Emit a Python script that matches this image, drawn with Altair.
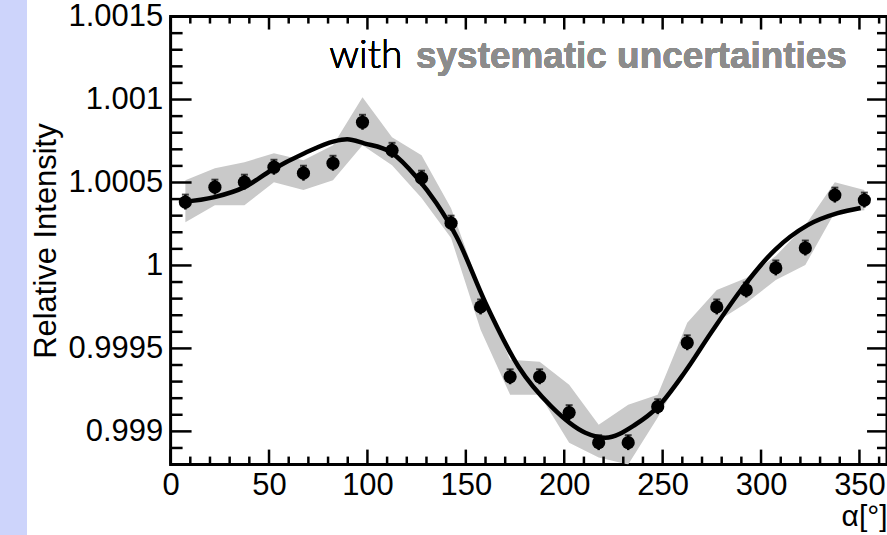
import altair as alt
import pandas as pd

# ---- data ----
alpha = [7.5, 22.5, 37.5, 52.5, 67.5, 82.5, 97.5, 112.5, 127.5, 142.5, 157.5, 172.5,
         187.5, 202.5, 217.5, 232.5, 247.5, 262.5, 277.5, 292.5, 307.5, 322.5, 337.5, 352.5]
intensity = [1.000382, 1.000472, 1.000502, 1.000592, 1.000556, 1.000616, 1.000863, 1.000694,
             1.000526, 1.000255, 0.999750, 0.999329, 0.999329, 0.999113, 0.998932, 0.998932,
             0.999149, 0.999534, 0.999750, 0.999852, 0.999985, 1.000105, 1.000424, 1.000394]
stat_err = [0.000045] * 24
syst_hi = [1.000514, 1.000586, 1.000622, 1.000676, 1.000634, 1.000724, 1.001013, 1.000772,
           1.000664, 1.000345, 0.999852, 0.999431, 0.999419, 0.999281, 0.999040, 0.999161,
           0.999221, 0.999654, 0.999852, 0.999924, 1.000057, 1.000243, 1.000502, 1.000454]
syst_lo = [1.000261, 1.000363, 1.000363, 1.000502, 1.000454, 1.000514, 1.000724, 1.000604,
           1.000406, 1.000165, 0.999612, 0.999221, 0.999221, 0.998932, 0.998842, 0.998800,
           0.999083, 0.999401, 0.999660, 0.999774, 0.999912, 1.000003, 1.000321, 1.000333]

fit_alpha = [5.6, 22.3, 37.5, 51.2, 68, 83, 89.7, 98.3, 112, 125, 135, 145.4, 160, 176.8,
             193.5, 210.7, 220.9, 236, 247.7, 261.4, 274.6, 289.8, 307, 323.7, 338.9, 350.6]
fit_val = [1.000382, 1.000412, 1.000472, 1.000574, 1.000676, 1.000748, 1.000760, 1.000736,
           1.000682, 1.000532, 1.000376, 1.000170, 0.999774, 0.999389, 0.999149, 0.998992,
           0.998962, 0.999040, 0.999149, 0.999359, 0.999594, 0.999852, 1.000093, 1.000243,
           1.000315, 1.000346]

x_major = [0, 50, 100, 150, 200, 250, 300, 350]
x_minor = [10, 20, 30, 40, 60, 70, 80, 90, 110, 120, 130, 140, 160, 170, 180, 190,
           210, 220, 230, 240, 260, 270, 280, 290, 310, 320, 330, 340, 360]
y_major = [0.999, 0.9995, 1.0, 1.0005, 1.001, 1.0015]
y_minor = [0.9989, 0.9991, 0.9992, 0.9993, 0.9994, 0.9996, 0.9997, 0.9998, 0.9999,
           1.0001, 1.0002, 1.0003, 1.0004, 1.0006, 1.0007, 1.0008, 1.0009,
           1.0011, 1.0012, 1.0013, 1.0014]

W, H = 718, 449
FONT = "Liberation Sans"

df = pd.DataFrame({"a": alpha, "v": intensity, "hi": syst_hi, "lo": syst_lo,
                   "eh": [v + e for v, e in zip(intensity, stat_err)],
                   "el": [v - e for v, e in zip(intensity, stat_err)]})
fit = pd.DataFrame({"a": fit_alpha, "v": fit_val})
xmaj = pd.DataFrame({"a": x_major})
xmin = pd.DataFrame({"a": x_minor})
ymaj = pd.DataFrame({"v": y_major})
ymin = pd.DataFrame({"v": y_minor})

xs = alt.Scale(domain=[0, 364], nice=False, zero=False)
ys = alt.Scale(domain=[0.9988, 1.0015], nice=False, zero=False)

x_axis = alt.Axis(values=x_major, format="d", ticks=False, domain=False, grid=False,
                  labelFontSize=31, labelFont=FONT, labelColor="black", labelPadding=6,
                  title="α[°]", titleFont=FONT, titleFontSize=30, titleFontWeight="normal",
                  titleColor="black", titleAnchor="end", titleAlign="right",
                  titleX=W, titleY=37, titleBaseline="top", labelFlush=False)
y_axis = alt.Axis(values=y_major, format="~g", ticks=False, domain=False, grid=False,
                  labelFontSize=31, labelFont=FONT, labelColor="black", labelPadding=8,
                  title="Relative Intensity", titleFont=FONT, titleFontSize=31,
                  titleFontWeight="normal", titleColor="black", titlePadding=6)

band = alt.Chart(df).mark_area(color="#c9c9c9", clip=True, interpolate="linear").encode(
    x=alt.X("a:Q", scale=xs, axis=x_axis),
    y=alt.Y("lo:Q", scale=ys, axis=y_axis),
    y2="hi:Q",
)
line = alt.Chart(fit).mark_line(color="black", strokeWidth=4.5, interpolate="monotone").encode(
    x=alt.X("a:Q", scale=xs), y=alt.Y("v:Q", scale=ys))
err = alt.Chart(df).mark_rule(color="black", strokeWidth=2.5).encode(
    x=alt.X("a:Q", scale=xs), y=alt.Y("el:Q", scale=ys), y2="eh:Q")
cap_hi = alt.Chart(df).mark_tick(color="black", orient="horizontal", size=7, thickness=2).encode(
    x=alt.X("a:Q", scale=xs), y=alt.Y("eh:Q", scale=ys))
pts = alt.Chart(df).mark_circle(color="black", size=175, opacity=1).encode(
    x=alt.X("a:Q", scale=xs), y=alt.Y("v:Q", scale=ys))

def xticks(data, y0, y1):
    return alt.Chart(data).mark_rule(color="black", strokeWidth=2.5).encode(
        x=alt.X("a:Q", scale=xs), y=alt.value(y0), y2=alt.value(y1))

def yticks(data, x0, x1):
    return alt.Chart(data).mark_rule(color="black", strokeWidth=2.5).encode(
        y=alt.Y("v:Q", scale=ys), x=alt.value(x0), x2=alt.value(x1))

ticks = [
    xticks(xmaj, H, H - 15), xticks(xmin, H, H - 8),
    xticks(xmaj, 0, 13), xticks(xmin, 0, 7),
    yticks(ymaj, 0, 21), yticks(ymin, 0, 12),
    yticks(ymaj, W, W - 20), yticks(ymin, W, W - 10),
]

strip = alt.Chart(xmaj).mark_rect(color="#cdd4fb", clip=False).encode(
    x=alt.value(-171), x2=alt.value(-144), y=alt.value(-20), y2=alt.value(H + 80))

txt_with = alt.Chart(xmaj).mark_text(text="with", font="Lato", fontSize=39, fontWeight=300,
                                     color="black", align="left", baseline="alphabetic").encode(
    x=alt.value(159), y=alt.value(52))
txt_sys = alt.Chart(xmaj).mark_text(text="systematic uncertainties", font=FONT, fontSize=37,
                                    fontWeight="bold", color="#8c8c8c",
                                    align="left", baseline="alphabetic").encode(
    x=alt.value(246), y=alt.value(52))

chart = alt.layer(strip, band, line, err, cap_hi, pts, *ticks, txt_with, txt_sys).properties(
    width=W, height=H,
    autosize=alt.AutoSizeParams(type="none"),
    padding={"left": 171, "top": 16, "right": 0, "bottom": 70},
    background="white",
).configure_view(stroke="black", strokeWidth=3)

chart.save("out.html", embed_options={"renderer": "svg", "actions": False})
